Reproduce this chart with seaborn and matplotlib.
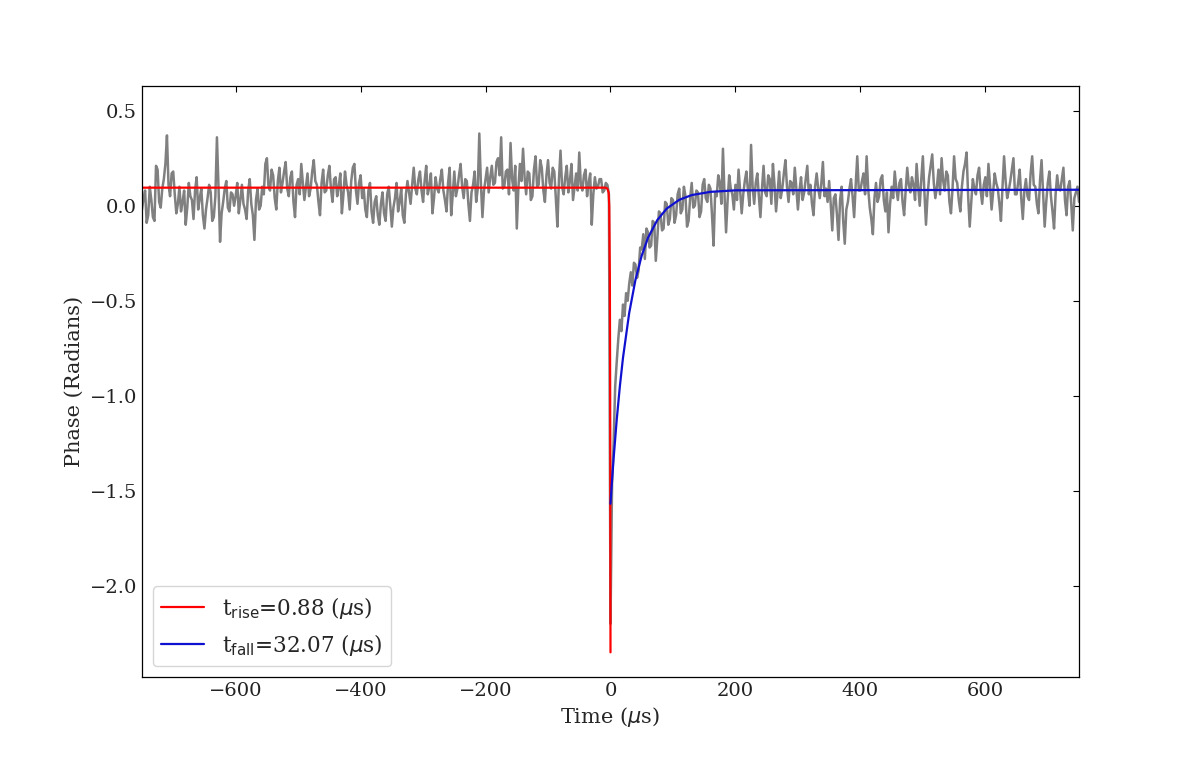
import matplotlib
matplotlib.use("Agg")
import matplotlib.pyplot as plt
import seaborn as sns
import numpy as np
import pandas as pd

# Phase trace (gray), every 2.5 us
time_us = np.linspace(-750, 750, 601)

phase_before = [
    -0.02, 0.04, 0.08, -0.09, -0.05, 0.10, 0.03, -0.06, -0.08, 0.21, 0.19, 0.02, -0.01, 0.09, 0.14, 0.22, 0.37, 0.11, 0.05, 0.17,
    0.18, 0.06, -0.04, 0.01, 0.10, -0.03, 0.02, 0.08, -0.10, -0.01, 0.12, 0.05, 0.03, -0.07, 0.08, 0.15, -0.02, 0.04, 0.09, -0.05,
    -0.12, -0.02, 0.04, 0.11, 0.07, -0.08, -0.06, 0.05, 0.36, 0.10, -0.19, -0.04, 0.02, 0.09, 0.13, -0.01, -0.03, 0.07, 0.06, 0.00,
    0.05, 0.12, -0.04, 0.03, 0.11, 0.01, -0.02, -0.07, 0.08, 0.14, 0.01, -0.05, -0.18, 0.03, 0.09, -0.02, 0.00, 0.10, 0.06, 0.22,
    0.25, 0.10, 0.08, 0.19, 0.16, 0.04, -0.02, 0.13, 0.20, 0.07, 0.12, 0.18, 0.23, 0.09, 0.05, 0.15, 0.18, 0.02, -0.06, 0.11,
    0.14, 0.06, 0.22, 0.12, 0.03, 0.10, 0.17, 0.05, 0.09, 0.18, 0.24, 0.13, 0.11, 0.02, -0.05, 0.12, 0.19, 0.07, 0.08, 0.16,
    0.21, 0.09, 0.02, 0.14, 0.15, 0.05, 0.10, 0.17, -0.04, 0.06, 0.18, 0.11, 0.07, -0.02, 0.13, 0.20, 0.22, 0.08, 0.01, 0.12,
    0.16, 0.04, 0.09, -0.02, -0.06, 0.08, 0.12, -0.03, -0.09, 0.02, 0.05, -0.05, -0.10, 0.01, 0.07, -0.04, -0.08, 0.06, 0.10, 0.00,
    -0.11, -0.01, 0.04, 0.12, -0.03, 0.02, 0.09, -0.05, -0.09, 0.06, 0.13, 0.07, 0.01, 0.11, 0.20, 0.09, 0.06, 0.14, 0.18, 0.08,
    0.02, 0.13, 0.21, 0.06, 0.10, 0.17, -0.04, 0.04, 0.15, 0.09, 0.07, 0.14, 0.19, 0.08, 0.03, -0.03, 0.12, 0.20, -0.05, 0.06,
    0.18, 0.05, 0.09, 0.16, 0.22, 0.10, 0.04, 0.14, 0.13, 0.01, -0.08, 0.07, 0.11, 0.18, 0.02, 0.09, 0.38, 0.12, -0.06, 0.08,
    0.14, 0.20, 0.07, 0.15, 0.21, 0.11, 0.12, 0.23, 0.25, 0.16, 0.36, 0.09, 0.10, 0.18, 0.19, 0.06, 0.33, 0.14, 0.08, 0.21,
    -0.12, 0.09, 0.22, 0.13, 0.30, 0.15, 0.06, 0.18, 0.17, 0.03, 0.05, 0.19, 0.26, 0.10, 0.11, 0.24, 0.20, 0.08, 0.02, 0.16,
    0.24, 0.12, 0.09, 0.20, 0.18, 0.04, -0.11, 0.14, 0.29, 0.10, 0.06, 0.15, 0.21, 0.07, 0.13, 0.22, 0.03, 0.10, 0.17, 0.08,
    0.28, 0.11, 0.08, 0.16, 0.19, 0.05, 0.12, 0.17, -0.10, 0.06, 0.15, 0.09, 0.10, 0.14, 0.14, 0.07, 0.08, 0.12, 0.11, 0.06,
]
phase_after = [
    -2.20, -1.46, -1.25, -0.95, -0.82, -0.70, -0.60, -0.66, -0.52, -0.58, -0.46, -0.50, -0.41, -0.35, -0.42, -0.30, -0.31, -0.38, -0.34, -0.22,
    -0.23, -0.15, -0.28, -0.12, -0.14, -0.22, -0.21, -0.08, -0.09, -0.29, -0.17, -0.03, -0.04, -0.13, -0.12, 0.02, 0.01, -0.10, -0.07, 0.04,
    0.03, -0.09, -0.05, 0.06, 0.09, -0.04, -0.02, 0.10, 0.05, -0.11, -0.08, 0.04, 0.12, -0.01, 0.00, 0.08, 0.07, -0.06, -0.03, 0.11,
    0.14, 0.04, 0.02, 0.11, 0.09, -0.05, -0.21, 0.07, 0.05, 0.16, 0.12, 0.01, 0.30, 0.06, -0.14, 0.03, 0.16, 0.09, 0.06, -0.02,
    0.11, 0.03, 0.19, 0.08, -0.04, 0.06, 0.13, 0.18, 0.08, 0.00, 0.32, 0.10, 0.01, 0.12, 0.17, 0.05, -0.06, 0.09, 0.21, 0.07,
    0.05, 0.16, 0.14, 0.01, 0.22, 0.11, -0.03, 0.07, 0.18, 0.04, 0.09, 0.17, 0.24, 0.10, 0.02, 0.13, 0.12, 0.06, 0.20, 0.09,
    -0.02, 0.08, 0.15, 0.03, 0.07, 0.14, 0.21, 0.06, 0.11, 0.01, -0.05, 0.10, 0.17, 0.09, 0.04, 0.12, 0.23, 0.05, 0.09, 0.02,
    0.13, 0.01, -0.13, 0.04, 0.06, -0.05, -0.18, 0.03, 0.10, -0.08, -0.20, -0.02, 0.02, 0.09, 0.14, 0.05, -0.06, 0.11, 0.26, 0.08,
    0.08, 0.13, 0.17, 0.06, 0.26, 0.09, -0.01, -0.07, -0.15, 0.04, 0.12, 0.02, 0.05, 0.14, 0.16, 0.03, -0.03, 0.07, -0.14, 0.01,
    0.10, 0.04, 0.18, 0.09, 0.03, 0.12, 0.14, 0.02, -0.05, 0.08, 0.20, 0.11, 0.07, 0.15, 0.11, 0.03, 0.22, 0.10, 0.00, 0.14,
    0.26, 0.07, -0.10, 0.05, 0.15, 0.21, 0.27, 0.12, 0.04, 0.10, 0.19, 0.06, 0.25, 0.13, 0.08, 0.18, 0.16, 0.02, -0.04, 0.09,
    0.26, 0.14, 0.12, 0.03, -0.03, 0.10, 0.18, 0.22, 0.28, 0.05, -0.11, 0.02, 0.14, 0.09, 0.06, 0.16, 0.20, 0.08, 0.01, 0.11,
    0.15, 0.05, 0.22, 0.11, -0.02, 0.07, 0.17, 0.12, 0.09, 0.01, -0.08, 0.10, 0.26, 0.13, 0.04, 0.08, 0.13, 0.19, 0.25, 0.06,
    0.06, 0.12, 0.19, 0.04, -0.07, 0.08, 0.14, 0.05, 0.03, 0.17, 0.26, 0.11, 0.10, 0.01, -0.04, 0.13, 0.24, 0.07, -0.11, 0.02,
    0.12, 0.18, 0.05, -0.03, -0.12, 0.06, 0.16, 0.09, 0.08, 0.14, 0.20, 0.03, -0.05, 0.10, 0.13, 0.01, -0.13, 0.04, 0.07, 0.10,
    0.02,
]

# Rise fit (red)
rise_time = [-750, -8, -5, -3, -2, -1, -0.5, 0]
rise_phase = [0.095, 0.095, 0.09, 0.07, 0.0, -0.4, -1.0, -2.35]

# Fall fit (blue)
fall_time = [0, 2, 5, 10, 15, 20, 30, 40, 50, 60, 75, 90, 110, 130, 160, 200, 750]
fall_phase = [-1.568, -1.468, -1.329, -1.125, -0.950, -0.800, -0.563, -0.389,
              -0.262, -0.169, -0.075, -0.015, 0.031, 0.056, 0.073, 0.081, 0.084]

rise_label = r"t$_{\rm rise}$=0.88 ($\mu$s)"
fall_label = r"t$_{\rm fall}$=32.07 ($\mu$s)"

df = pd.DataFrame({"time": time_us, "phase": phase_before + phase_after})
df_rise = pd.DataFrame({"time": rise_time, "phase": rise_phase})
df_fall = pd.DataFrame({"time": fall_time, "phase": fall_phase})

sns.set_style("white")
plt.rcParams["font.family"] = ["DejaVu Serif"]
plt.rcParams["axes.edgecolor"] = "black"

fig = plt.figure(figsize=(11.96, 7.59), dpi=100)
ax = fig.add_axes([0.1187, 0.108, 0.7835, 0.7787])

sns.lineplot(data=df, x="time", y="phase", color="gray", lw=1.8, ax=ax)
sns.lineplot(data=df_rise, x="time", y="phase", color="red", lw=1.6, label=rise_label, ax=ax)
sns.lineplot(data=df_fall, x="time", y="phase", color="#1010d0", lw=1.6, label=fall_label, ax=ax)

ax.set_xlim(-750, 750)
ax.set_ylim(-2.48, 0.63)
ax.set_xticks([-600, -400, -200, 0, 200, 400, 600])
ax.set_yticks([-2.0, -1.5, -1.0, -0.5, 0.0, 0.5])
ax.tick_params(which="both", direction="in", top=True, right=True, length=4.5,
               labelsize=14, color="black", labelcolor="#222222")
ax.set_xlabel(r"Time ($\mu$s)", fontsize=15)
ax.set_ylabel("Phase (Radians)", fontsize=15)
for s in ax.spines.values():
    s.set_color("black")
    s.set_linewidth(0.9)

ax.legend(loc="lower left", fontsize=15.5, frameon=True, fancybox=True)

fig.savefig("out.png", dpi=100)
